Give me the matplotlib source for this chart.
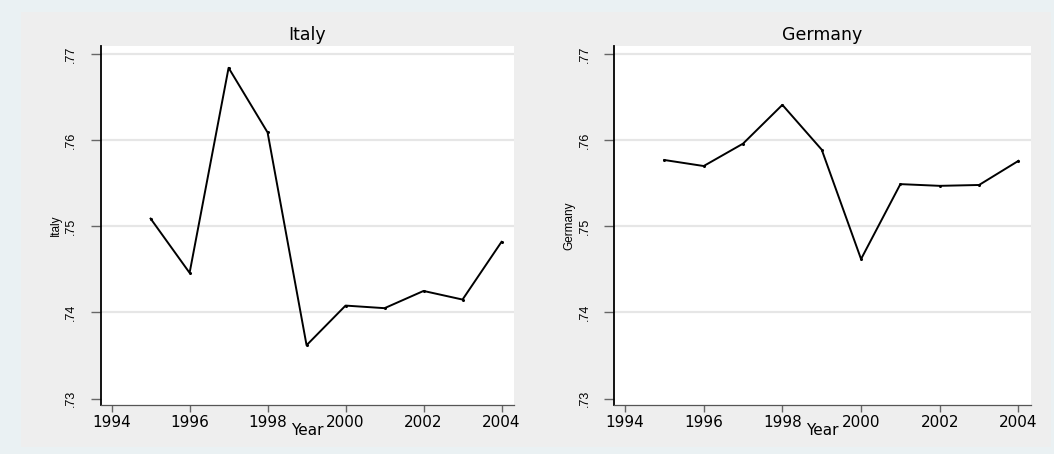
import matplotlib
matplotlib.use("Agg")
import matplotlib.pyplot as plt
from matplotlib.patches import Rectangle

# yearly values for each country
years = [1995, 1996, 1997, 1998, 1999, 2000, 2001, 2002, 2003, 2004]
italy = [0.7509, 0.7446, 0.7684, 0.7609, 0.7362, 0.7408, 0.7405, 0.7425, 0.7415, 0.7482]
germany = [0.7577, 0.7570, 0.7596, 0.7641, 0.7589, 0.7462, 0.7549, 0.7547, 0.7548, 0.7576]

x_ticks = [1994, 1996, 1998, 2000, 2002, 2004]
y_ticks = [0.73, 0.74, 0.75, 0.76, 0.77]
y_tick_labels = ['.73', '.74', '.75', '.76', '.77']

plt.rcParams['font.family'] = ['DejaVu Sans']

W, H = 1054, 454
fig = plt.figure(figsize=(W / 100, H / 100), dpi=100)
fig.patch.set_facecolor('#eaf1f3')

# gray graph region behind both panels
fig.add_artist(Rectangle((21 / W, 1 - 447 / H), (1051 - 21) / W, (447 - 12) / H,
                         transform=fig.transFigure, facecolor='#eeeeee',
                         edgecolor='none', zorder=-5))


def panel(rect, values, name):
    ax = fig.add_axes(rect)
    ax.set_zorder(1)
    ax.set_facecolor('white')
    for yv in y_ticks[1:]:
        ax.axhline(yv, color='#e6e6e6', lw=1.6, zorder=1)
    ax.plot(years, values, color='black', lw=1.4, marker='o', markersize=1.2,
            zorder=3)
    ax.set_xlim(1993.72, 2004.32)
    ax.set_ylim(0.72926, 0.77098)
    ax.set_xticks(x_ticks)
    ax.set_yticks(y_ticks)
    ax.set_yticklabels(y_tick_labels, rotation=90, va='center', fontsize=9,
                       family='Liberation Sans')
    ax.tick_params(axis='y', length=7, width=1, color='#666666', pad=10)
    ax.tick_params(axis='x', length=5, width=1, color='#666666', pad=2,
                   labelsize=11)
    for s in ['top', 'right']:
        ax.spines[s].set_visible(False)
    ax.spines['left'].set_color('black')
    ax.spines['left'].set_linewidth(1.3)
    ax.spines['bottom'].set_color('#555555')
    ax.spines['bottom'].set_linewidth(0.9)
    ax.set_title(name, fontsize=12.5, pad=4)
    ax.set_xlabel('Year', fontsize=11, labelpad=-5)
    ax.set_ylabel(name, fontsize=8.5, labelpad=2, family='Liberation Sans')
    return ax


panel([100.7 / W, 1 - 405 / H, 413.3 / W, 359.4 / H], italy, 'Italy')
panel([614 / W, 1 - 405 / H, 417 / W, 359.4 / H], germany, 'Germany')

fig.savefig('out.png', dpi=100, facecolor=fig.get_facecolor())
